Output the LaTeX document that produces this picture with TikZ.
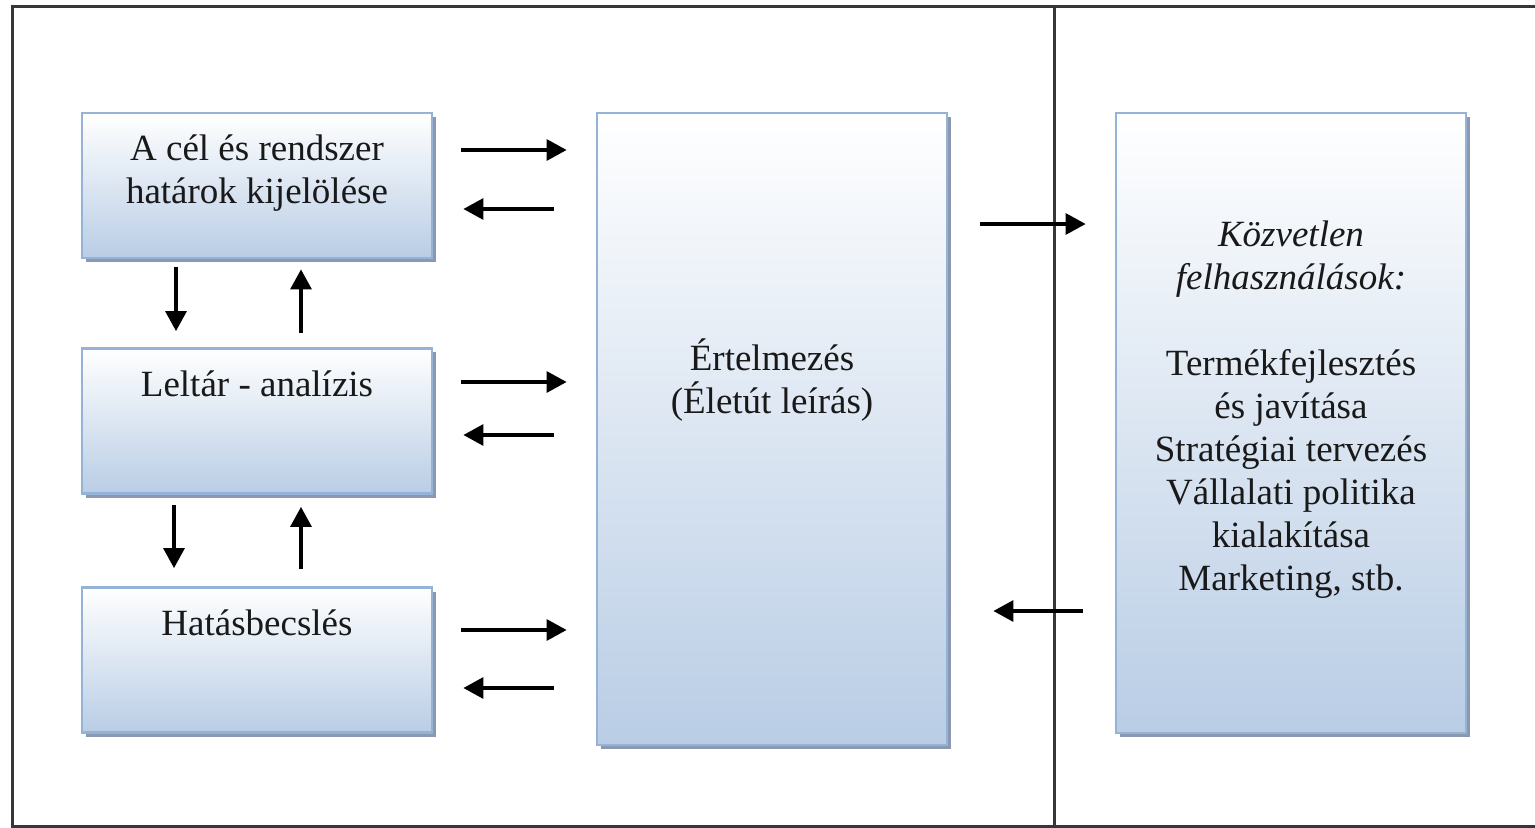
\documentclass[tikz,border=0pt]{standalone}
\usepackage{fontspec}
\setmainfont{Liberation Serif}
\usetikzlibrary{arrows.meta,shadows}
\definecolor{boxline}{RGB}{149,179,215}
\definecolor{boxfill}{RGB}{185,205,229}
\definecolor{boxshade}{RGB}{140,152,175}
\definecolor{framegray}{RGB}{55,55,55}
\definecolor{textdark}{RGB}{25,25,25}

\begin{document}
\begin{tikzpicture}[x=0.5pt, y=-0.5pt,
    every node/.style={font=\fontsize{18.5}{21.5}\selectfont, text=textdark},
    phase/.style={draw=boxline, line width=1.4pt, top color=white, bottom color=boxfill,
        minimum width=175pt, minimum height=72.5pt, inner sep=0pt,
        drop shadow={shadow xshift=2pt, shadow yshift=-2pt, fill=boxshade, opacity=1}},
    txt/.style={anchor=north, align=center, inner sep=0pt},
    arr/.style={-{Triangle[length=10pt,width=10.5pt]}, line width=1.6pt}]
    \clip (0,0) rectangle (1535,828);
    \fill[white] (0,0) rectangle (1535,828);

    % Frame
    \draw[framegray, line width=1.5pt] (1545,7) -| (12,826) -- (1545,826);
    \draw[framegray, line width=1.5pt] (1054,7) -- (1054,826);

    % Boxes
    \node[phase, label={[txt, yshift=-11.5pt]north:{A cél és rendszer\\határok kijelölése}}] at (257,185.5) (cel) {};
    \node[phase, label={[txt, yshift=-11.5pt]north:{Leltár - analízis}}] at (257,421) (leltar) {};
    \node[phase, label={[txt, yshift=-11.5pt]north:{Hatásbecslés}}] at (257,660) (hatas) {};
    \node[phase, minimum height=316pt, label={[txt, yshift=-113.5pt]north:{Értelmezés\\(Életút leírás)}}] at (772,429) (ertel) {};
    \node[phase, minimum height=310pt, label={[txt, yshift=-54.5pt]north:{\textit{Közvetlen}\\\textit{felhasználások:}\\[21.5pt]Termékfejlesztés\\és javítása\\Stratégiai tervezés\\Vállalati politika\\kialakítása\\Marketing, stb.}}] at (1291,423) (felh) {};

    % Arrows between the phases
    \draw[arr, shorten <=4pt, shorten >=8pt] (cel.south -| 176,0) -- (leltar.north -| 176,0);
    \draw[arr, shorten <=7pt, shorten >=5pt] (leltar.north -| 301,0) -- (cel.south -| 301,0);
    \draw[arr, shorten <=5pt, shorten >=9pt] (leltar.south -| 174,0) -- (hatas.north -| 174,0);
    \draw[arr, shorten <=8.5pt, shorten >=6pt] (hatas.north -| 301,0) -- (leltar.south -| 301,0);

    % Arrows to and from the interpretation
    \draw[arr, shorten <=14pt, shorten >=14.5pt] (cel.east |- 0,150) -- (ertel.west |- 0,150);
    \draw[arr, shorten <=21pt, shorten >=15pt] (ertel.west |- 0,209) -- (cel.east |- 0,209);
    \draw[arr, shorten <=14pt, shorten >=14.5pt] (leltar.east |- 0,382) -- (ertel.west |- 0,382);
    \draw[arr, shorten <=21pt, shorten >=15pt] (ertel.west |- 0,435) -- (leltar.east |- 0,435);
    \draw[arr, shorten <=14pt, shorten >=14.5pt] (hatas.east |- 0,630) -- (ertel.west |- 0,630);
    \draw[arr, shorten <=21pt, shorten >=15pt] (ertel.west |- 0,688) -- (hatas.east |- 0,688);

    % Applications
    \draw[arr, shorten <=16pt, shorten >=14.5pt] (ertel.east |- 0,224) -- (felh.west |- 0,224);
    \draw[arr, shorten <=16pt, shorten >=22.5pt] (felh.west |- 0,611) -- (ertel.east |- 0,611);
\end{tikzpicture}
\end{document}
